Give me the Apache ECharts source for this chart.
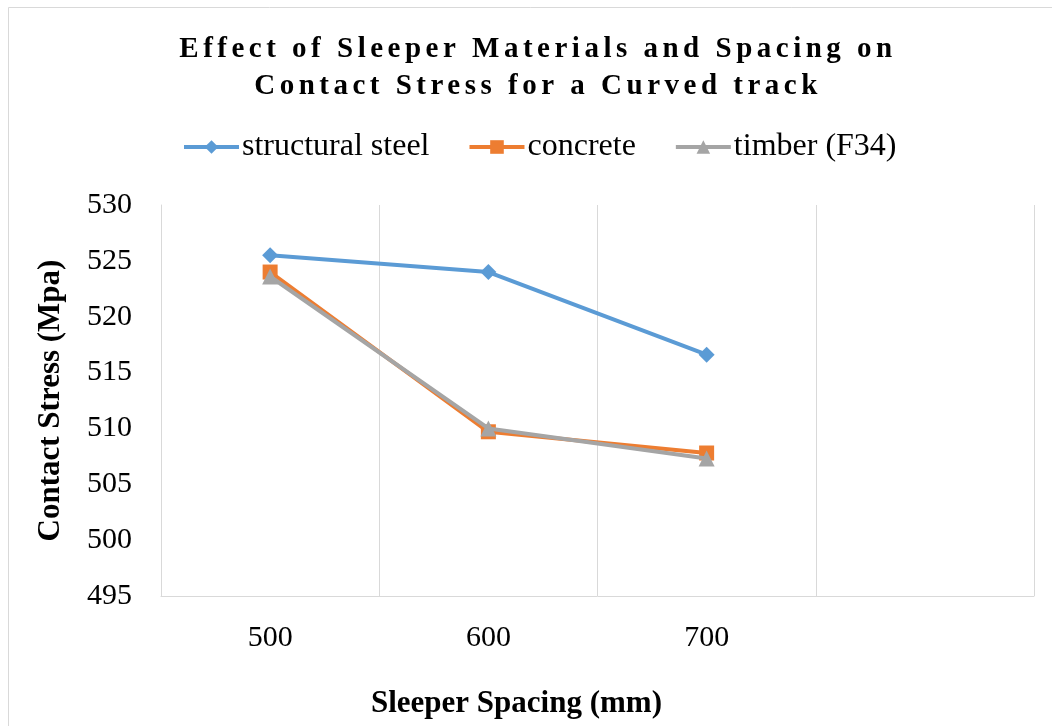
<!DOCTYPE html>
<html>
<head>
<meta charset="utf-8">
<script src="https://cdn.jsdelivr.net/npm/echarts@6/dist/echarts.min.js"></script>
<style>
  html, body { margin: 0; padding: 0; background: #fff; }
  #chart { width: 1052px; height: 726px; }
</style>
</head>
<body>
<div id="chart"></div>
<script>
// Sleeper spacing categories (the trailing blank slot keeps an empty column on the right)
const spacings = ['500', '600', '700', ''];
const yTicks = { min: 495, max: 530, step: 5 };

// Contact stress (MPa) per sleeper material
const structuralSteel = [525.5, 524.0, 516.6];
const concrete = [524.0, 509.7, 507.8];
const timberF34 = [523.6, 510.0, 507.3];

const titleLines = ['Effect of Sleeper Materials and Spacing on', 'Contact Stress for a Curved track'];

const serif = '"Liberation Serif", "Times New Roman", serif';

// The heading is drawn letter-spaced: widen the tracking only while its lines are painted
(function () {
  const proto = CanvasRenderingContext2D.prototype;
  const baseFill = proto.fillText;
  proto.fillText = function (text, x, y, maxWidth) {
    if (titleLines.indexOf(text) >= 0 && 'letterSpacing' in this) {
      const prev = this.letterSpacing;
      this.letterSpacing = '4.5px';
      const r = maxWidth === undefined ? baseFill.call(this, text, x, y) : baseFill.call(this, text, x, y, maxWidth);
      this.letterSpacing = prev;
      return r;
    }
    return maxWidth === undefined ? baseFill.call(this, text, x, y) : baseFill.call(this, text, x, y, maxWidth);
  };
})();

const chart = echarts.init(document.getElementById('chart'), null, { renderer: 'canvas' });

chart.setOption({
  backgroundColor: '#fff',
  animation: false,
  graphic: [{
    type: 'rect',
    shape: { x: 8.5, y: 7.5, width: 1100, height: 800 },
    style: { fill: 'none', stroke: '#d9d9d9', lineWidth: 1 },
    silent: true, z: -1
  }],
  title: {
    text: titleLines.join('\n'),
    left: 533, top: 26, textAlign: 'center',
    textStyle: {
      fontFamily: serif, fontWeight: 'bold', fontSize: 29,
      color: '#000', lineHeight: 37
    }
  },
  legend: {
    top: 126, left: 177,
    itemWidth: 55, itemHeight: 17, itemGap: 38,
    lineStyle: { width: 4 },
    textStyle: { fontFamily: serif, fontSize: 32, color: '#000', padding: [0, 0, 0, -2] },
    data: ['structural steel', 'concrete', 'timber (F34)']
  },
  grid: { left: 161, right: 18, top: 205, bottom: 130, containLabel: false, outerBoundsMode: 'none' },
  xAxis: {
    type: 'category',
    data: spacings,
    boundaryGap: true,
    axisLine: { show: true, lineStyle: { color: '#d9d9d9', width: 1 } },
    axisTick: { show: false },
    splitLine: { show: true, lineStyle: { color: '#d9d9d9', width: 1 } },
    axisLabel: { fontFamily: serif, fontSize: 30, color: '#000', margin: 27 },
    name: 'Sleeper Spacing (mm)',
    nameLocation: 'middle', nameGap: 92,
    nameTextStyle: { fontFamily: serif, fontSize: 31, fontWeight: 'bold', color: '#000', padding: [0, 162, 0, 0] }
  },
  yAxis: {
    type: 'value',
    min: yTicks.min, max: yTicks.max, interval: yTicks.step,
    axisLine: { show: true, lineStyle: { color: '#d9d9d9', width: 1 } },
    axisTick: { show: false },
    splitLine: { show: false },
    axisLabel: { fontFamily: serif, fontSize: 30, color: '#000', margin: 29 },
    name: 'Contact Stress (Mpa)',
    nameLocation: 'middle', nameGap: 95, nameRotate: 90,
    nameTextStyle: { fontFamily: serif, fontSize: 31, fontWeight: 'bold', color: '#000' }
  },
  series: [
    {
      name: 'structural steel', type: 'line', data: structuralSteel,
      symbol: 'diamond', symbolSize: 16,
      lineStyle: { color: '#5B9BD5', width: 4 },
      itemStyle: { color: '#5B9BD5' }, z: 3
    },
    {
      name: 'concrete', type: 'line', data: concrete,
      symbol: 'rect', symbolSize: 15,
      lineStyle: { color: '#ED7D31', width: 4 },
      itemStyle: { color: '#ED7D31' }, z: 4
    },
    {
      name: 'timber (F34)', type: 'line', data: timberF34,
      symbol: 'triangle', symbolSize: 16,
      lineStyle: { color: '#A5A5A5', width: 4 },
      itemStyle: { color: '#A5A5A5' }, z: 5
    }
  ]
});
</script>
</body>
</html>
